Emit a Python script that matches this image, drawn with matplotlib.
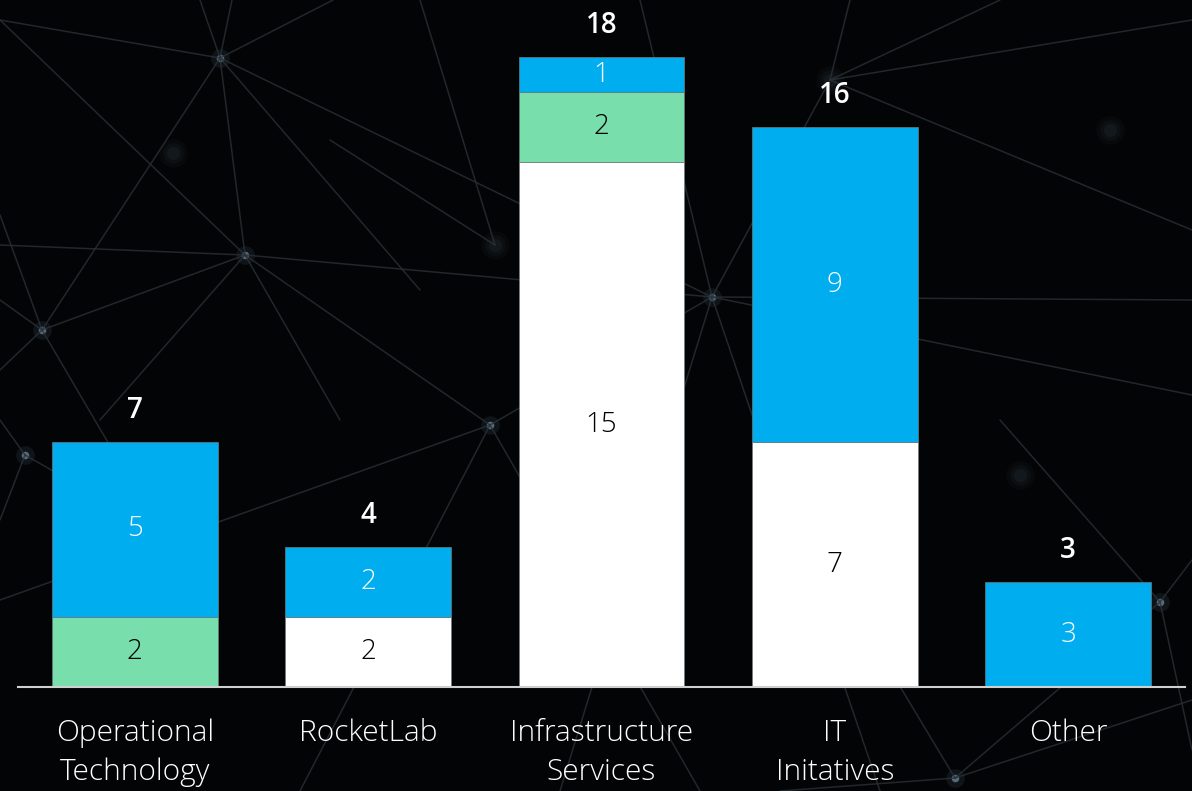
import matplotlib.pyplot as plt
import numpy as np

plt.rcParams['font.family'] = ['Open Sans', 'DejaVu Sans']

BG_COLOR = '#030405'
WHITE = '#FFFFFF'
GREEN = '#78DEAC'
BLUE = '#00AEEF'

# Data
categories = ['Operational\nTechnology', 'RocketLab', 'Infrastructure\nServices',
              'IT\nInitatives', 'Other']
white_vals = [0, 2, 15, 7, 0]
green_vals = [2, 0, 2, 0, 0]
blue_vals = [5, 2, 1, 9, 3]

fig = plt.figure(figsize=(11.92, 7.91), dpi=100)
fig.patch.set_facecolor(BG_COLOR)

# Decorative network backdrop (pixel space)
bg = fig.add_axes([0, 0, 1, 1], zorder=0)
bg.set_xlim(0, 1192)
bg.set_ylim(791, 0)
bg.axis('off')
bg.set_facecolor(BG_COLOR)

nodes = {
    'A': (220, 58), 'B': (245, 255), 'C': (42, 330), 'D': (173, 153),
    'E': (712, 297), 'F': (830, 80), 'G': (490, 425), 'H': (1160, 602),
    'I': (955, 778), 'J': (25, 455), 'K': (1110, 130), 'L': (1020, 475),
    'M': (495, 245),
}
links = [
    ('A', (200, 0)), ('A', (232, 0)), ('A', (333, 0)), ('A', 'C'), ('A', 'B'),
    ('A', (420, 290)), ('A', 'E'), ('A', (0, 20)),
    ((0, 20), 'B'), ('B', 'C'), ('B', 'E'), ('B', 'G'), ('B', (100, 420)),
    ('B', (340, 420)), ('B', (0, 245)),
    ('C', (0, 215)), ('C', (0, 370)), ('C', (130, 480)), ('C', (0, 300)),
    ('E', 'F'), ('E', (1192, 395)), ('E', (640, 0)), ('E', 'G'),
    ('E', (880, 791)), ('E', (1192, 300)), ('E', (560, 791)),
    ('F', (850, 0)), ('F', (1192, 20)), ('F', (1000, 0)), ('F', (1192, 230)),
    ('G', (300, 791)), ('G', (0, 600)), ('G', (700, 791)),
    ('H', 'I'), ('H', (1192, 560)), ('H', (1000, 420)), ('H', (1192, 750)),
    ('I', (780, 791)), ('I', (1192, 700)), ('I', (860, 620)),
    ('J', (0, 520)), ('J', (210, 560)), ('J', (0, 420)),
    ('M', (330, 140)), ('M', (420, 0)),
]


def pt(p):
    return nodes[p] if isinstance(p, str) else p


for a, b in links:
    (x0, y0), (x1, y1) = pt(a), pt(b)
    bg.plot([x0, x1], [y0, y1], color='#2a3036', lw=1.1, alpha=0.8,
            solid_capstyle='round')

strong = ['A', 'B', 'C', 'E', 'G', 'H', 'I', 'J']
faint = ['D', 'F', 'K', 'L', 'M']
for n in strong:
    x, y = nodes[n]
    bg.scatter([x], [y], s=180, color='#2b3a48', alpha=0.3, lw=0)
    bg.scatter([x], [y], s=30, color='#5d7285', alpha=0.9, lw=0)
for n in faint:
    x, y = nodes[n]
    for s, a in [(420, 0.12), (220, 0.18), (90, 0.25)]:
        bg.scatter([x], [y], s=s, color='#25303a', alpha=a, lw=0)

# Stacked bar chart
ax = fig.add_axes([18 / 1192, 104 / 791, 1167 / 1192, 630 / 791], zorder=2)
ax.patch.set_alpha(0)
x = np.arange(len(categories))
width = 0.711

white_vals = np.array(white_vals)
green_vals = np.array(green_vals)
blue_vals = np.array(blue_vals)

bottoms = np.zeros(len(categories))
series = [(white_vals, WHITE, '#000000'),
          (green_vals, GREEN, '#000000'),
          (blue_vals, BLUE, '#FFFFFF')]
for vals, color, txt_color in series:
    ax.bar(x, vals, width, bottom=bottoms, color=color,
           edgecolor='#6f7b80', linewidth=0.5, zorder=3)
    for xi, v, b in zip(x, vals, bottoms):
        if v > 0:
            ax.text(xi, b + v / 2, f'{v}', ha='center', va='center',
                    fontsize=20, fontweight='light', color=txt_color, zorder=4)
    bottoms = bottoms + vals

totals = white_vals + green_vals + blue_vals
for xi, t in zip(x, totals):
    ax.annotate(f'{t}', (xi, t), xytext=(0, 17), textcoords='offset points',
                ha='center', va='baseline', fontsize=20, fontweight='semibold',
                color=WHITE)

ax.set_xlim(-0.5, 4.5)
ax.set_ylim(0, 18)
ax.set_yticks([])
ax.set_xticks(x)
ax.set_xticklabels(categories, fontsize=21.5, fontweight='light', color=WHITE,
                   linespacing=1.4)
ax.tick_params(axis='x', length=0, pad=23)
for side in ['top', 'right', 'left']:
    ax.spines[side].set_visible(False)
ax.spines['bottom'].set_color('#D0D0D0')
ax.spines['bottom'].set_linewidth(1.5)
ax.spines['bottom'].set_zorder(5)

plt.savefig('out.png', dpi=100, facecolor=BG_COLOR)
plt.close()
